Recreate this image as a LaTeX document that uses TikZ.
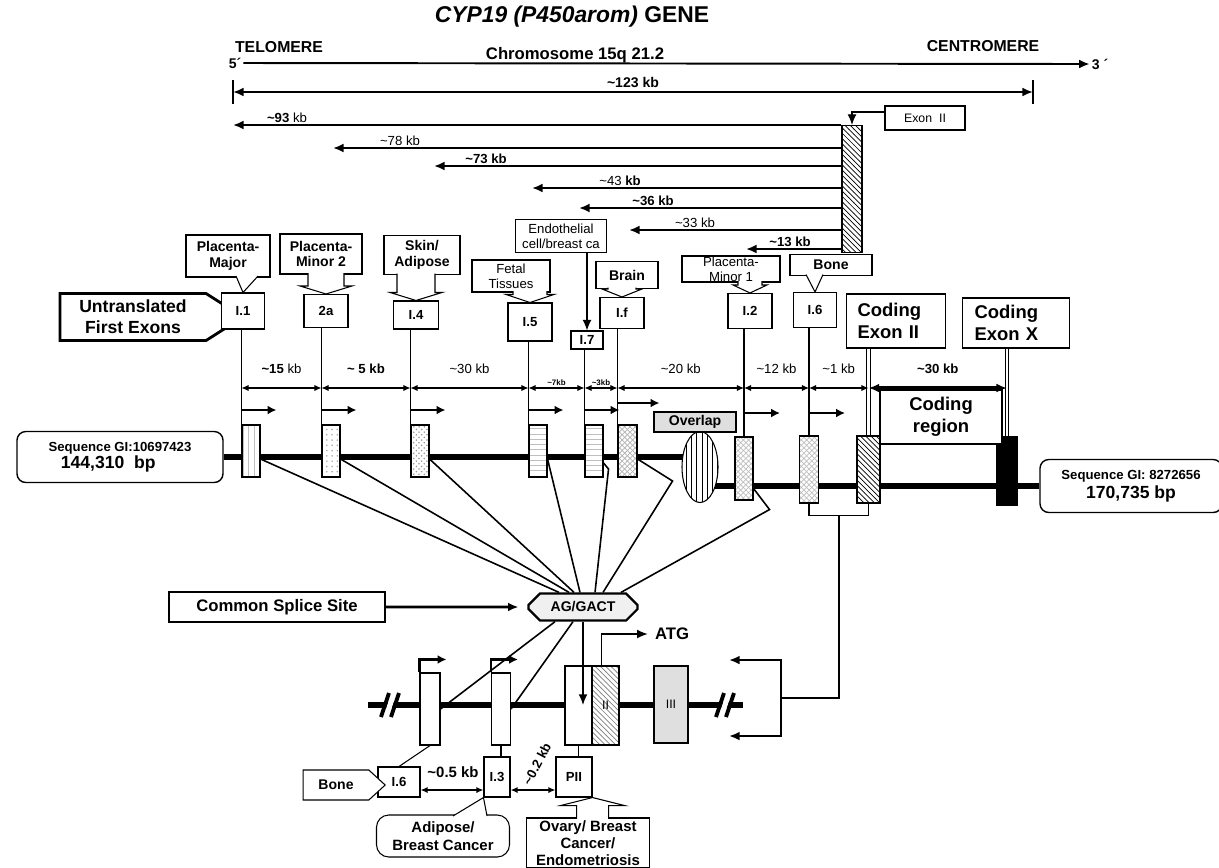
\documentclass[tikz,border=0pt]{standalone}
\usepackage{fontspec}
\setmainfont{Liberation Sans}
\usetikzlibrary{arrows.meta,calc,patterns,shapes.geometric,shapes.symbols,shapes.misc}

\newcommand{\fsz}[2]{\fontsize{#1}{#2}\selectfont}
% block arrow from a callout box to its exon (#5: 1 = down, -1 = up)
\newcommand{\callarrow}[5]{%
  \draw[semithick,fill=white] ($(#1 -| #2)+(-#3,{-1.5*(#5)})$) -- ($(#2)+(-#3,{-8*(#5)})$)
    -- ($(#2)+(-#4,{-8*(#5)})$) -- (#2) -- ($(#2)+(#4,{-8*(#5)})$) -- ($(#2)+(#3,{-8*(#5)})$)
    -- ($(#1 -| #2)+(#3,{-1.5*(#5)})$);}
\newcommand{\calltail}[4]{%
  \draw[semithick,fill=white] ($(#1 -| #2)+(#3,-1.5)$) -- (#2) -- ($(#1 -| #2)+(#4,-1.5)$);}

\begin{document}
\begin{tikzpicture}[x=0.02cm,y=-0.02cm,>={Latex[length=6pt,width=5pt]},
  sz/.style 2 args={minimum width=#1*0.02cm,minimum height=#2*0.02cm},
  tissue box/.style={draw,fill=white,semithick,align=center,inner sep=0pt,font=\fsz{8}{9}\bfseries},
  exon box/.style={tissue box,font=\fsz{7.5}{8}\bfseries},
  exon bar/.style={draw,semithick,inner sep=0pt,preaction={fill=white},pattern=#1},
  kb text/.style={inner sep=1pt,font=\fsz{7.5}{8}\bfseries},
  gene line/.style={line width=3.4pt},
  promoter/.style={->,line width=1.5pt,>={Latex[length=5pt,width=5pt]}},
  dim arrow/.style={<->,semithick,>={Latex[length=4pt,width=3.5pt]}}]

  \useasboundingbox (0,0) rectangle (1219,867);

  \node[font=\fsz{13}{15}\bfseries] (title) at (572,17) {{\itshape CYP19 (P450arom)} GENE};
  \node[font=\fsz{9}{10}\bfseries] (telo) at (279,47) {TELOMERE};
  \node[font=\fsz{9.5}{11}\bfseries] (chrom) at (575,55) {Chromosome 15q 21.2};
  \node[font=\fsz{9}{10}\bfseries] (centro) at (983,46) {CENTROMERE};
  \node[font=\fsz{8}{9}\bfseries,inner sep=1pt] (end5) at (235,63) {5´};
  \node[font=\fsz{8}{9}\bfseries,inner sep=1pt] (end3) at (1100,64) {3 ´};
  \draw[->,line width=1.1pt] (end5.east) -- (end3.west);
  \coordinate (telo end) at (233,92);
  \coordinate (cen end) at (1033,92);
  \draw[<->,line width=1.1pt] (telo end) -- (cen end)
    node[kb text,midway,above=1pt,font=\fsz{8}{9}\bfseries] (kb123) {\textasciitilde123 kb};
  \draw[line width=1.1pt] (telo end) ++(0,-12) -- ++(0,24) (cen end) ++(0,-12) -- ++(0,24);

  \node[tissue box,sz={80}{24},font=\fsz{7}{8}] (exII) at (925,118) {Exon\hspace{4pt}II};
  \node[draw,semithick,inner sep=0pt,preaction={fill=white},pattern=north west lines,sz={20}{127}] (hb) at (852,189) {};
  \draw[->,semithick] ($(exII.west)+(0,-6)$) -| (hb.north);
  \foreach \yy/\tx/\lx/\lab in {125/233/287/{\textasciitilde93 {\mdseries kb}},
      148/333/400/{\mdseries\textasciitilde78 kb},
      166/434/486/{\textasciitilde73 kb},
      188/532/620/{{\mdseries\textasciitilde43} kb},
      208/579/653/{\textasciitilde36 kb},
      230/629/695/{\mdseries\textasciitilde33 kb},
      249/746/790/{\textasciitilde13 kb}}{
    \coordinate (kb tip \yy) at (\tx,\yy);
    \draw[->,line width=1.1pt] (hb.west |- kb tip \yy) -- (kb tip \yy);
    \node[kb text,anchor=south] (kb lab \yy) at (\lx,\yy) {\lab};
  }

  \node[draw,fill=white,line width=1.6pt,signal,signal to=east,signal pointer angle=65,
    sz={183}{47},align=center,inner sep=0pt,font=\fsz{10}{12}\bfseries] (ute) at (133,317) {Untranslated\\First Exons};

  \node[exon box,sz={43}{36}] (e11) at (243,311) {I.1};
  \node[exon box,sz={44}{33}] (e2a) at (326,311) {2a};
  \node[exon box,sz={45}{28}] (e14) at (416,315) {I.4};
  \node[exon box,sz={44}{38}] (e15) at (530,322) {I.5};
  \node[exon box,sz={32}{18}] (e17) at (587,340) {I.7};
  \node[exon box,sz={44}{31}] (e1f) at (622,313) {I.f};
  \node[exon box,sz={44}{35}] (e12) at (750,311) {I.2};
  \node[exon box,sz={43}{35}] (e16) at (815,310) {I.6};
  \node[tissue box,sz={99}{54},text width=1.54cm,align=left,font=\fsz{10.5}{12.5}\bfseries] (cex2) at (896,321) {Coding\\Exon II};
  \node[tissue box,sz={107}{50},text width=1.66cm,align=left,font=\fsz{10.5}{12.5}\bfseries] (cexX) at (1016,323) {Coding\\Exon X};

  \node[tissue box,sz={84}{42}] (pmaj) at (228,256) {Placenta-\\Major};
  \node[tissue box,sz={82}{40}] (pmin2) at (321,254) {Placenta-\\Minor 2};
  \node[tissue box,sz={76}{39}] (skin) at (422,255) {Skin/\\Adipose};
  \node[tissue box,sz={78}{32},font=\fsz{7.5}{8.5}] (fetal) at (511,276) {Fetal\\Tissues};
  \node[tissue box,sz={91}{33},font=\fsz{7.5}{8.5}] (endo) at (561,236) {Endothelial\\cell/breast ca};
  \node[tissue box,sz={62}{27}] (brain) at (627,275) {Brain};
  \node[tissue box,sz={98}{26},font=\fsz{7.5}{8.5}] (pmin1) at (731,269) {Placenta-\\Minor 1};
  \node[tissue box,sz={82}{21}] (bone) at (831,265) {Bone};

  \calltail{pmaj.south}{e11.north}{-7}{15}
  \callarrow{pmin2.south}{e2a.north}{18}{26}{1}
  \callarrow{skin.south}{e14.north}{19}{26}{1}
  \callarrow{fetal.south}{e15.north}{17}{24}{1}
  \callarrow{brain.south}{e1f.north}{14}{20}{1}
  \callarrow{pmin1.south}{e12.north}{12}{17}{1}
  \calltail{bone.south}{e16.north}{-9}{8}
  \draw[->,semithick] (e17.north |- endo.south) -- (e17.north);

  \node[tissue box,rounded corners=5pt,thick,sz={206}{51},align=left] (seqL) at (120,457)
    {{\fsz{7.5}{9}Sequence GI:10697423}\\[1pt]\hspace{7pt}{\fsz{10}{11}144,310\ \ bp}};
  \node[tissue box,rounded corners=5pt,thick,sz={182}{53}] (seqR) at (1131,486)
    {{\fsz{7.5}{9}Sequence GI: 8272656}\\[2pt]{\fsz{10}{11}170,735 bp}};
  \coordinate (ovc) at (700,467);
  \draw[gene line] (seqL.east) -- (seqL.east -| ovc);
  \draw[gene line] (ovc |- seqR.west) -- (seqR.west);
  \node[ellipse,draw,semithick,inner sep=0pt,preaction={fill=white},pattern=vertical lines,sz={36}{71}] (ovl) at (ovc) {};
  \node[draw,semithick,fill=gray!25,inner sep=0pt,sz={82}{20},font=\fsz{8}{9}\bfseries] (ovlap) at (695,422) {Overlap};

  \node[exon bar=vertical lines,pattern color=gray!50,sz={18}{52}] (g11) at (251,451) {};
  \node[exon bar=dots,pattern color=gray!70,sz={18}{52}] (g2a) at (331,451) {};
  \node[exon bar=crosshatch dots,pattern color=gray!80,sz={18}{52}] (g14) at (420,451) {};
  \node[exon bar=horizontal lines,pattern color=gray!50,sz={18}{52}] (g15) at (538,451) {};
  \node[exon bar=horizontal lines,pattern color=gray!50,sz={18}{52}] (g17) at (594,451) {};
  \node[exon bar=crosshatch,pattern color=gray!60,sz={19}{52}] (g1f) at (627.5,451) {};
  \node[exon bar=crosshatch,pattern color=gray!50,sz={18}{63}] (g12) at (744,468.5) {};
  \node[exon bar=crosshatch,pattern color=gray!50,sz={19}{67}] (g16) at (809,469.5) {};
  \node[exon bar=north west lines,sz={23}{67}] (g2c) at (868.5,469.5) {};
  \node[draw,semithick,fill=black,inner sep=0pt,sz={21}{68}] (gX) at (1007,471) {};

  \coordinate (prow) at (0,410);
  \foreach \e/\g in {e11/g11,e2a/g2a,e14/g14,e15/g15,e17/g17}{
    \draw[semithick] (\e.south -| \g.north west) -- (\g.north west);
    \draw[promoter] (\g.north west |- prow) -- ++(35,0);
  }
  \draw[semithick] (e1f.south -| g1f.north west) -- (g1f.north west);
  \draw[promoter] ($(g1f.north west |- prow)+(0,-7)$) -- ++(42,0);
  \foreach \e/\g in {e12/g12,e16/g16}{
    \draw[semithick] (\e.south -| \g.north) -- (\g.north);
    \draw[promoter] ($(\g.north |- prow)+(0,3)$) -- ++(36,0);
  }
  \draw[double,semithick,double distance=1.5pt] (cex2.south -| g2c.north) -- (g2c.north);
  \draw[double,semithick,double distance=1.5pt] (cexX.south -| gX.north) -- (gX.north);

  \coordinate (drow) at (0,388);
  \foreach \a/\b/\lab [count=\i] in {g11.north west/g2a.north west/{\textasciitilde15 {\mdseries kb}},
      g2a.north west/g14.north west/{\textasciitilde\ 5 kb},
      g14.north west/g15.north west/{\mdseries\textasciitilde30 kb},
      g1f.north west/g12.north/{\mdseries\textasciitilde20 kb},
      g12.north/g16.north/{\mdseries\textasciitilde12 kb},
      g16.north/g2c.north/{\mdseries\textasciitilde1 kb}}
    \draw[dim arrow] (\a |- drow) -- (\b |- drow) node[kb text,midway,above=7pt] (dl\i) {\lab};
  \draw[dim arrow] (g15.north west |- drow) -- (g17.north west |- drow)
    node[midway,above=1pt,inner sep=0pt,font=\fsz{4.5}{5}\bfseries] (dl7) {\textasciitilde7kb};
  \draw[dim arrow] (g17.north west |- drow) -- (g1f.north west |- drow)
    node[midway,above=1pt,inner sep=0pt,font=\fsz{4.5}{5}\bfseries] (dl8) {\textasciitilde3kb};
  \node[tissue box,sz={122}{54},font=\fsz{10.5}{12.5}\bfseries] (creg) at (941,417) {Coding\\region};
  \draw[<->,line width=2pt] (g2c.north |- drow) -- (gX.north |- drow)
    node[kb text,midway,above=6pt] (dl9) {\textasciitilde30 kb};

  \node[chamfered rectangle,draw,line width=1.3pt,fill=gray!12,inner sep=0pt,sz={109}{27},font=\fsz{8}{9}\bfseries] (ag) at (583,607) {AG/GACT};
  \node[tissue box,sz={216}{30},font=\fsz{9.5}{11}\bfseries] (css) at (277,607) {Common Splice Site};
  \draw[->,line width=1.5pt,shorten >=5pt] (css) -- (ag);
  \foreach \g/\dx in {g11/-24,g2a/-14,g14/-9,g15/-3}
    \draw[line width=0.9pt] ($(\g.east)+(0,8)$) -- ($(ag.north)+(\dx,0)$);
  \draw[line width=0.9pt] ($(g17.east)+(0,12)$) -- ++(5,6) -- ($(ag.north)+(12,0)$);
  \draw[line width=0.9pt] ($(g1f.east)+(0,8)$) -- ++(35,22) -- ($(ag.north)+(20,0)$);
  \draw[line width=0.9pt] ($(g12.south east)+(0,-12)$) -- ++(16,21) -- ($(ag.north)+(38,0)$);

  \draw[semithick] (g16.south) -- ++(0,12) -| (g2c.south);
  \coordinate (brk) at ($(g16.south)!0.5!(g2c.south)+(0,12)$);
  \coordinate (rbk) at (781,698);
  \draw[line width=1.2pt] (brk) |- (rbk);
  \draw[line width=1.2pt,->] (rbk) -- ++(0,-38) -- ++(-52,0);
  \draw[line width=1.2pt,->] (rbk) -- ++(0,38) -- ++(-52,0);

  \coordinate (lgL) at (368,705);
  \coordinate (lgR) at (743,705);
  \draw[gene line] (lgL) -- (lgR);
  \foreach \bx in {386,721}{
    \draw[white,line width=3pt] (\bx,717) -- (\bx+8,693);
    \draw[line width=2.2pt] (\bx-5,717) -- (\bx+3,693);
    \draw[line width=2.2pt] (\bx+5,717) -- (\bx+13,693);
  }
  \node[draw,semithick,fill=white,inner sep=0pt,sz={20}{72}] (l16) at (430,709) {};
  \node[draw,semithick,fill=white,inner sep=0pt,sz={19}{72}] (l13) at (501,709) {};
  \node[draw,semithick,fill=white,inner sep=0pt,sz={27}{79}] (lpw) at (578.5,705.5) {};
  \node[exon bar=north west lines,pattern color=gray,sz={27}{79},font=\fsz{7}{8}] (l2h) at (605.5,705.5) {II};
  \node[draw,semithick,fill=gray!25,inner sep=0pt,sz={34}{77},font=\fsz{7}{8}] (l3) at (671,704.5) {III};
  \draw[promoter] (l16.north west) -- ++(0,-13) -- ++(27,0);
  \draw[promoter] (l13.north west) -- ++(0,-13) -- ++(27,0);
  \node[font=\fsz{9.5}{11}\bfseries,inner sep=1pt] (atg) at (672,634) {ATG};
  \draw[->,semithick,shorten >=3pt] ($(l2h.north)+(-4,0)$) |- (atg.west);
  \draw[line width=0.9pt] ($(ag.south)+(-28,0)$) -- (l16.east);
  \draw[line width=0.9pt] ($(ag.south)+(-10,0)$) -- (l13.east);
  \draw[->,line width=0.9pt] (ag.south) -- (ag.south |- lgL);

  \node[exon box,sz={42}{30}] (i6) at (399,782) {I.6};
  \node[draw,semithick,fill=white,signal,signal to=east,signal pointer angle=85,inner sep=0pt,
    sz={82}{30},font=\fsz{8}{9}\bfseries] (bone2) at (336,785) {Bone};
  \node[exon box,sz={26}{40}] (i3) at (497,777) {I.3};
  \node[exon box,sz={36}{40}] (pii) at (574,777) {PII};
  \draw[semithick] (l16.south) -- (i6.north);
  \draw[semithick] (l13.south) -- (l13.south |- i3.north);
  \draw[semithick] (lpw.south) -- (lpw.south |- pii.north);
  \coordinate (da) at (0,790);
  \draw[dim arrow,line width=0.9pt] (i6.east |- da) -- (i3.west |- da);
  \draw[dim arrow,line width=0.9pt] (i3.east |- da) -- (pii.west |- da);
  \node[kb text,font=\fsz{8.5}{9}\bfseries] (d05) at (453,772) {\textasciitilde0.5 kb};
  \node[kb text,inner sep=0pt,rotate=62] (d02) at (537,764) {\textasciitilde0.2 kb};

  \node[tissue box,rounded corners=7pt,sz={133}{42},font=\fsz{8.5}{10}\bfseries] (adp) at (443,836) {Adipose/\\Breast Cancer};
  \draw[semithick,fill=white] ($(adp.north)+(10,1.5)$) -- (i3.south west) -- ($(adp.north)+(44,1.5)$);
  \node[tissue box,sz={123}{50},font=\fsz{8.5}{9.5}\bfseries] (ova) at (588,843) {Ovary/ Breast\\Cancer/\\Endometriosis};
  \callarrow{ova.north}{pii.south east}{16}{32}{-1}
\end{tikzpicture}
\end{document}
